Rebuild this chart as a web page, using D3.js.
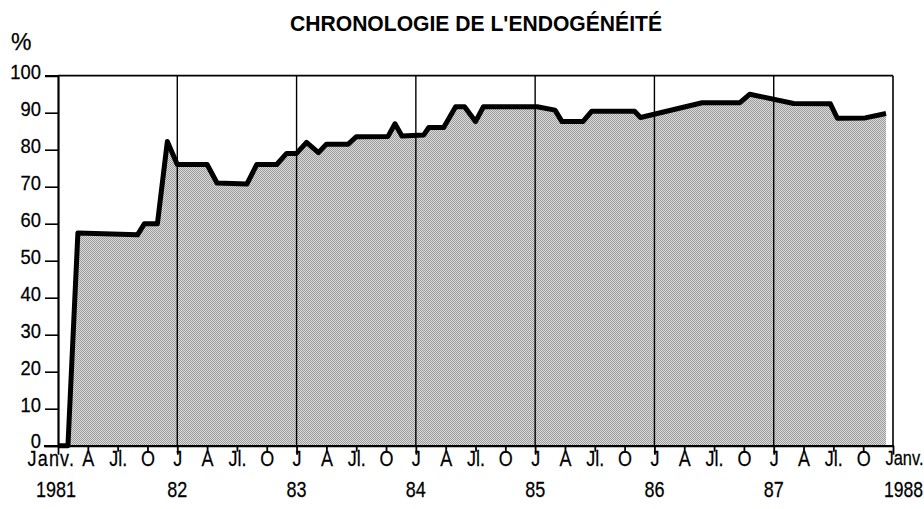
<!DOCTYPE html>
<html><head><meta charset="utf-8">
<script src="https://cdn.jsdelivr.net/npm/d3@7/dist/d3.min.js"></script>
<style>
html,body{margin:0;padding:0;background:#fff;}
svg text{font-family:"Liberation Sans",Arial,sans-serif;fill:#000;stroke:#000;stroke-width:0.25px;}
</style></head>
<body><svg id="c" width="924" height="509"></svg>
<script>
// months since January 1981
const months = [0,1,2,8,8.7,10,11,12,15,16,19,20,22,23,24,25,26.2,27,29.2,30,33.2,33.9,34.6,36.8,37.3,38.8,40,40.9,42,42.8,48.2,50,50.7,52.8,53.7,58,58.6,64.8,68.6,69.6,74,77.7,78.4,81.2,83.3];
const values = [0,0,57.5,57,60,60,82.2,76,76,71,70.7,76,76,79,79,82,79.2,81.5,81.5,83.5,83.6,87,83.7,84,86,86,91.6,91.6,87.6,91.6,91.6,90.7,87.6,87.6,90.4,90.4,88.7,92.7,92.7,95,92.5,92.4,88.5,88.6,89.8];
const yTicks = [0,10,20,30,40,50,60,70,80,90,100];
const monthTicks = d3.range(0,85,3);
const monthLabels = ["Janv.","A","Jl.","O","J","A","Jl.","O","J","A","Jl.","O","J","A","Jl.","O","J","A","Jl.","O","J","A","Jl.","O","J","A","Jl.","O","Janv."];
const yearTicks = [0,12,24,36,48,60,72,84];
const yearLabels = ["1981","82","83","84","85","86","87","1988"];
const title = "CHRONOLOGIE DE L'ENDOGÉNÉITÉ";

const SX = 0.8; // condensed look
const data = months.map((m,i)=>({m, v:values[i]}));
const svg = d3.select("#c");
const x = d3.scaleLinear().domain([0,84]).range([58,893]);
const y = d3.scaleLinear().domain([0,100]).range([445.7,75.7]);

// pattern for halftone fill
const defs = svg.append("defs");
const pat = defs.append("pattern").attr("id","ht").attr("width",2).attr("height",2).attr("patternUnits","userSpaceOnUse");
pat.append("rect").attr("width",2).attr("height",2).attr("fill","#dcdcdc");
pat.append("rect").attr("x",0).attr("y",0).attr("width",1).attr("height",1).attr("fill","#9a9a9a");
pat.append("rect").attr("x",1).attr("y",1).attr("width",1).attr("height",1).attr("fill","#9a9a9a");

// area
svg.append("path").datum(data)
  .attr("d", d3.area().x(d=>x(d.m)).y0(y(0)).y1(d=>y(d.v)))
  .attr("fill","url(#ht)");

// vertical grid at each January
svg.append("g").selectAll("line").data(yearTicks.slice(1,-1)).join("line")
  .attr("x1",d=>x(d)).attr("x2",d=>x(d)).attr("y1",y(100)).attr("y2",y(0))
  .attr("stroke","#000").attr("stroke-width",1.4);
// right border
svg.append("line").attr("x1",x(84)).attr("x2",x(84)).attr("y1",y(100)).attr("y2",y(0))
  .attr("stroke","#000").attr("stroke-width",1.6);
// top border
svg.append("line").attr("x1",x(0)).attr("x2",x(84)).attr("y1",y(100)).attr("y2",y(100))
  .attr("stroke","#000").attr("stroke-width",1.8);

// y axis
const ya = svg.append("g").attr("transform",`translate(${x(0)},0)`)
  .call(d3.axisLeft(y).tickValues(yTicks).tickSize(13).tickPadding(4).tickFormat(d=>d));
ya.select(".domain").attr("stroke-width",2.2);
ya.selectAll(".tick line").attr("stroke-width",1.6);
ya.selectAll(".tick text").attr("font-size",20).attr("dy",d=>d===0?"0.1em":"0.15em")
  .attr("transform",`scale(0.92,1)`).attr("x",-17/0.92);

// x axis
const xa = svg.append("g").attr("transform",`translate(0,${y(0)})`)
  .call(d3.axisBottom(x).tickValues(monthTicks).tickSize(6).tickSizeOuter(0).tickFormat((d,i)=>monthLabels[i]));
xa.select(".domain").attr("stroke-width",2.2).attr("d",`M44,0.5H${x(84)+1}`);
xa.selectAll(".tick text").attr("stroke",null).style("stroke","#000");
xa.selectAll(".tick line").attr("stroke-width",1.8).attr("y2",d=>d%12===0?9:6);
xa.selectAll(".tick text").attr("font-size",22.5).attr("y",4.5).attr("transform",`scale(${SX},1)`);
xa.selectAll(".tick text").filter(d=>d===0)
  .attr("text-anchor","start").attr("x",(27-x(0))/SX).attr("letter-spacing",1.5);
xa.selectAll(".tick text").filter(d=>d===84)
  .attr("text-anchor","start").attr("x",(885-x(84))/SX).attr("font-size",20.5);

svg.append("g").attr("transform",`translate(0,${y(0)})`).selectAll("text").data(yearTicks).join("text")
  .attr("transform",`scale(${SX},1)`)
  .attr("x",d=>(d===0?36:(d===84?884:x(d)))/SX).attr("y",51)
  .attr("text-anchor",d=>(d===0||d===84)?"start":"middle")
  .attr("font-size",d=>d===84?22:22.5)
  .text((d,i)=>yearLabels[i]);

// line
svg.append("path").datum(data)
  .attr("d", d3.line().x(d=>x(d.m)).y(d=>y(d.v)))
  .attr("fill","none").attr("stroke","#000").attr("stroke-width",5).attr("stroke-linejoin","round");

// title and unit
svg.append("text").attr("x",290).attr("y",31).attr("text-anchor","start")
  .attr("font-size",22).attr("font-weight","bold").style("stroke-width","0px")
  .attr("textLength",372).attr("lengthAdjust","spacingAndGlyphs").text(title);
svg.append("text").attr("x",11).attr("y",50).attr("font-size",23).text("%");
</script></body></html>
